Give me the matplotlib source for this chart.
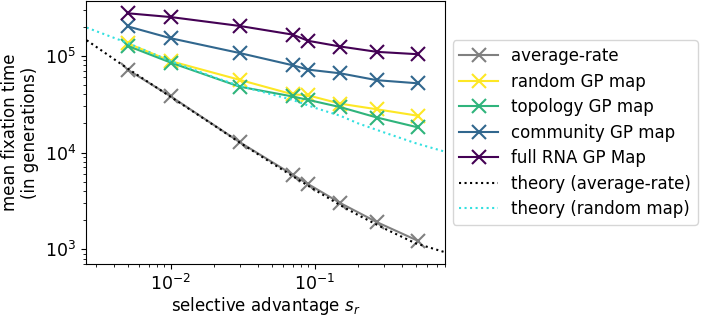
import matplotlib
matplotlib.use("Agg")
import matplotlib.pyplot as plt
import numpy as np

# selective advantage values used in the simulations
s_r = [0.005, 0.01, 0.03, 0.07, 0.09, 0.15, 0.27, 0.52]

# mean fixation times (generations)
t_average = [7.2e4, 3.8e4, 1.28e4, 5.9e3, 4.7e3, 3.0e3, 1.9e3, 1.22e3]
t_random = [1.35e5, 8.8e4, 5.65e4, 4.0e4, 3.9e4, 3.2e4, 2.8e4, 2.4e4]
t_topology = [1.27e5, 8.5e4, 4.8e4, 3.8e4, 3.5e4, 2.95e4, 2.3e4, 1.82e4]
t_community = [2.02e5, 1.52e5, 1.07e5, 8.0e4, 7.2e4, 6.6e4, 5.6e4, 5.2e4]
t_full = [2.76e5, 2.52e5, 2.04e5, 1.66e5, 1.43e5, 1.25e5, 1.10e5, 1.04e5]

# theory curves
s_theory = [0.0026, 0.005, 0.01, 0.02, 0.03, 0.05, 0.07, 0.1, 0.15, 0.2, 0.3, 0.5, 0.8]
t_theory_avg = [1.45e5, 7.4e4, 3.75e4, 1.9e4, 1.27e4, 7.8e3, 5.7e3, 4.1e3, 2.85e3,
                2.25e3, 1.65e3, 1.15e3, 9.3e2]
t_theory_rand = [1.96e5, 1.36e5, 8.8e4, 6.0e4, 4.9e4, 4.0e4, 3.5e4, 2.9e4, 2.4e4,
                 2.0e4, 1.62e4, 1.25e4, 1.02e4]

cmap = plt.get_cmap("viridis")
series = [
    ("average-rate", t_average, "grey"),
    ("random GP map", t_random, cmap(1.0)),
    ("topology GP map", t_topology, cmap(0.65)),
    ("community GP map", t_community, cmap(0.33)),
    ("full RNA GP Map", t_full, cmap(0.0)),
]

plt.rcParams["font.size"] = 12
fig = plt.figure(figsize=(7.01, 3.19), dpi=100)
ax = fig.add_axes([0.1227, 0.172, 0.512, 0.825])

for label, t, c in series:
    ax.plot(s_r, t, marker="x", ms=9.5, mew=1.5, lw=1.5, c=c, label=label)
ax.plot(s_theory, t_theory_avg, ls=":", c="k", lw=1.5, label="theory (average-rate)")
ax.plot(s_theory, t_theory_rand, ls=":", c="#33e0e0", lw=1.5, label="theory (random map)")

ax.set_xscale("log")
ax.set_yscale("log")
ax.set_xlim(0.00257, 0.8)
ax.set_ylim(700, 3.7e5)
ax.tick_params(labelsize=12.5)
ax.set_xlabel("selective advantage $s_r$", fontsize=12, labelpad=1)
ax.set_ylabel("mean fixation time\n(in generations)", fontsize=12)
ax.legend(loc="center left", bbox_to_anchor=(1.022, 0.5), borderaxespad=0,
          fontsize=12, labelspacing=0.45, handlelength=2.3)

fig.savefig("out.png", dpi=100)
